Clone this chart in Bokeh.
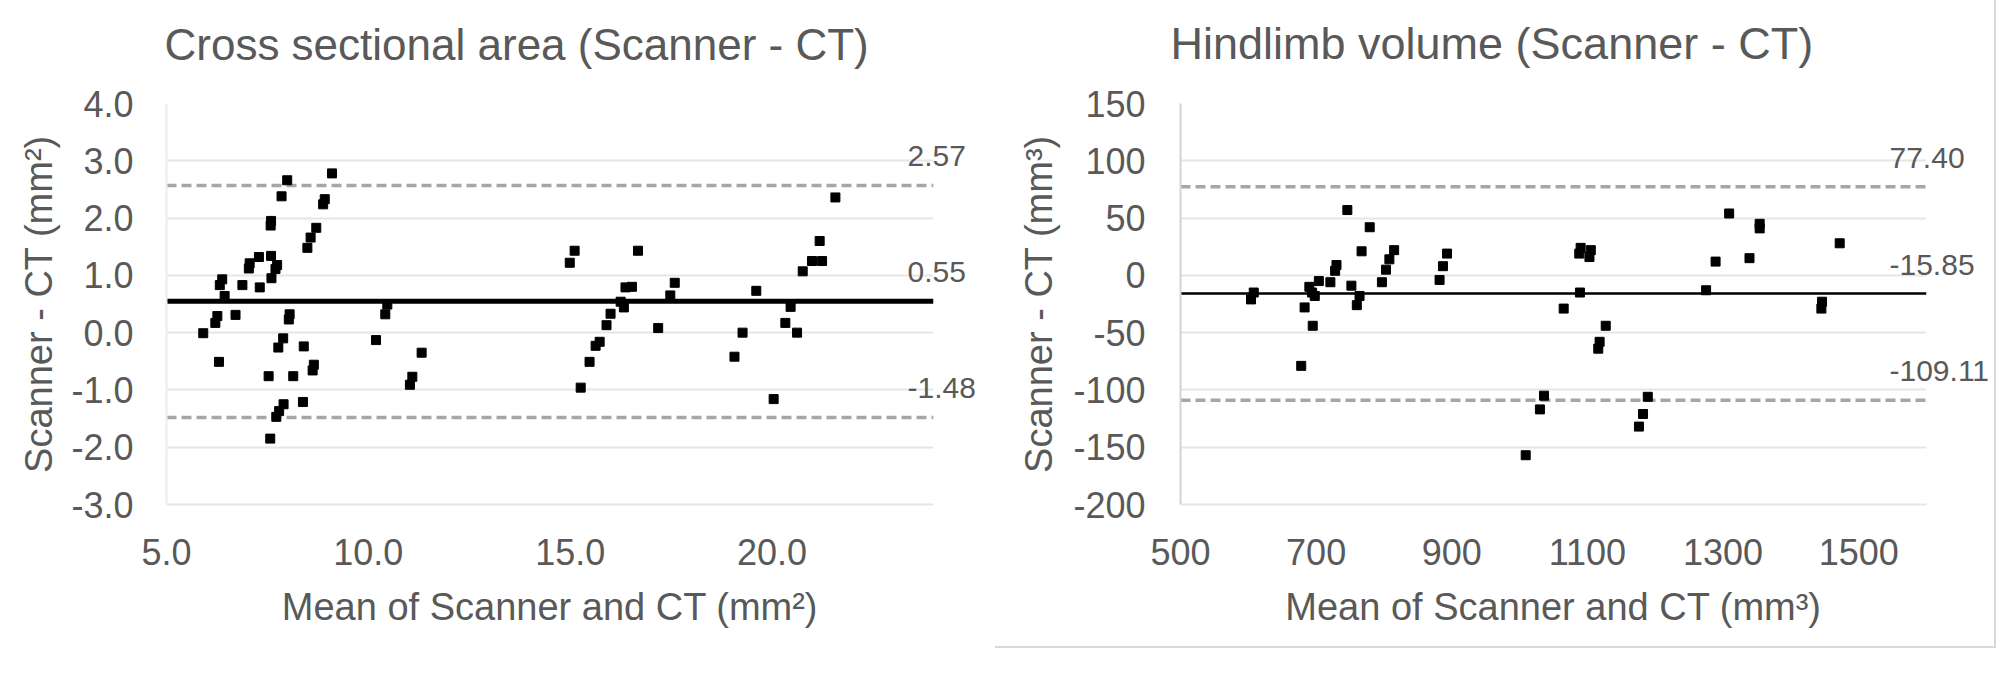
from bokeh.plotting import figure
from bokeh.layouts import row
from bokeh.models import (Range1d, FixedTicker, NumeralTickFormatter, LinearAxis, Title)
from bokeh.embed import file_html
from bokeh.resources import INLINE

# ---------------- data: cross sectional area ----------------
csa_mean = [9.10, 7.99, 7.85, 8.92, 8.88, 7.59, 7.58, 8.71, 8.57, 8.49,
            7.29, 7.06, 7.04, 7.59, 7.74, 7.70, 7.60, 6.38, 6.32, 6.88,
            7.31, 6.44, 6.26, 6.21, 6.71, 5.91, 8.05, 8.03, 6.30, 7.89,
            7.77, 8.40, 7.53, 8.14, 8.65, 8.62, 10.47, 10.42, 10.19, 11.32,
            11.09, 11.03, 7.90, 7.79, 7.72, 8.38, 7.57,
            15.11, 14.99, 16.68, 16.37, 16.53, 17.59, 17.48, 16.25, 16.33,
            16.00, 15.90, 15.73, 15.63, 15.48, 15.26, 17.18, 19.27, 19.07,
            19.61, 21.57, 21.18, 20.99, 21.24, 20.76, 20.46, 20.33, 20.62, 20.04]
csa_diff = [2.78, 2.66, 2.38, 2.33, 2.24, 1.95, 1.87, 1.83, 1.66, 1.48,
            1.32, 1.21, 1.12, 1.34, 1.18, 1.11, 0.95, 0.93, 0.83, 0.83,
            0.79, 0.64, 0.29, 0.17, 0.31, -0.01, 0.32, 0.23, -0.51, -0.10,
            -0.26, -0.24, -0.76, -0.76, -0.56, -0.66, 0.49, 0.32, -0.13, -0.35,
            -0.77, -0.91, -1.25, -1.37, -1.47, -1.21, -1.85,
            1.43, 1.22, 1.43, 0.79, 0.80, 0.87, 0.65, 0.54, 0.44,
            0.33, 0.13, -0.16, -0.23, -0.51, -0.96, 0.08, 0.00, -0.42,
            0.73, 2.36, 1.60, 1.25, 1.25, 1.07, 0.45, 0.17, 0.00, -1.16]
csa_bias = 0.55
csa_limits = [2.57, -1.48]
csa_xlim = [5, 24]
csa_ylim = [-3, 4]
csa_xticks = [5, 10, 15, 20]
csa_yticks = [-3, -2, -1, 0, 1, 2, 3, 4]

# ---------------- data: hindlimb volume ----------------
vol_mean = [608, 604, 746, 779, 767, 730, 728, 815, 808, 803,
            797, 752, 764, 760, 721, 704, 690, 694, 698, 683,
            695, 678, 893, 887, 882, 1036, 1030, 1009, 1065, 1089,
            1090, 1105, 1103, 1088, 1127, 1118, 1116, 1189, 1182, 1176,
            1309, 1354, 1354, 1289, 1339, 1275, 1472, 1446, 1445]
vol_diff = [-15, -21, 57, 42, 21, 9, 4, 22, 14, 5,
            -6, -9, -18, -26, -6, -5, -10, -15, -18, -28,
            -44, -79, 19, 8, -4, -105, -117, -157, -29, -15,
            24, 22, 16, 19, -44, -58, -64, -106, -121, -132,
            54, 45, 41, 12, 15, -13, 28, -23, -29]
vol_bias = -15.85
vol_limits = [77.40, -109.11]
vol_xlim = [500, 1600]
vol_ylim = [-200, 150]
vol_xticks = [500, 700, 900, 1100, 1300, 1500]
vol_yticks = [-200, -150, -100, -50, 0, 50, 100, 150]

FONT = "Liberation Sans"
TXT = "#595959"
GRID = "#e6e6e6"
FRAME_H = 401
LABEL_LIFT = 29  # px the value labels sit above their line


def make_chart(title, xs, ys, bias, limits, xlim, ylim, xticks, yticks,
               xfmt, yfmt, xlabel, ylabel, width, left, frame_w, title_size,
               title_offset, bias_width, yaxis_color, ytick_standoff, ylab_standoff,
               value_standoff, styles=None):
    kw = {}
    if styles:
        kw["styles"] = styles
    p = figure(width=width, height=648, output_backend="svg", toolbar_location=None,
               x_range=Range1d(*xlim), y_range=Range1d(*ylim),
               min_border_left=left, min_border_right=width - left - frame_w,
               min_border_top=103, min_border_bottom=648 - 103 - FRAME_H, **kw)
    p.outline_line_color = None
    p.title.text = ""
    # blank spacer between frame and title, then the title itself
    p.add_layout(Title(text=" ", text_font_size="10px", standoff=22), "above")
    p.add_layout(Title(text=title, text_font=FONT, text_font_size=title_size,
                       text_font_style="normal", text_color=TXT, align="left",
                       offset=title_offset, standoff=0), "above")

    p.xaxis.ticker = FixedTicker(ticks=xticks)
    p.yaxis.ticker = FixedTicker(ticks=yticks)
    p.xaxis.formatter = NumeralTickFormatter(format=xfmt)
    p.yaxis.formatter = NumeralTickFormatter(format=yfmt)
    for ax in (p.xaxis, p.yaxis):
        ax.major_tick_line_color = None
        ax.minor_tick_line_color = None
        ax.major_label_text_font = FONT
        ax.major_label_text_font_size = "36px"
        ax.major_label_text_color = TXT
        ax.axis_label_text_font = FONT
        ax.axis_label_text_font_size = "38px"
        ax.axis_label_text_font_style = "normal"
        ax.axis_label_text_color = TXT
    p.xaxis.axis_label = xlabel
    p.yaxis.axis_label = ylabel
    p.xaxis.major_label_standoff = 28
    p.yaxis.major_label_standoff = ytick_standoff
    p.xaxis.axis_label_standoff = 18
    p.yaxis.axis_label_standoff = ylab_standoff
    p.xaxis.axis_line_color = GRID
    p.xaxis.axis_line_width = 2
    p.yaxis.axis_line_color = yaxis_color
    p.yaxis.axis_line_width = 2

    p.xgrid.grid_line_color = None
    p.ygrid.grid_line_color = GRID
    p.ygrid.grid_line_width = 2

    # limits of agreement (dashed) and mean difference (solid)
    m = len(limits)
    p.segment(x0=[xlim[0]] * m, x1=[xlim[1]] * m, y0=limits, y1=limits,
              line_color="#a6a6a6", line_width=3.5, line_dash="10 5")
    p.segment(x0=[xlim[0]], x1=[xlim[1]], y0=[bias], y1=[bias],
              line_color="black", line_width=bias_width)

    p.scatter(xs, ys, marker="square", size=9, color="black")

    # value labels of the three lines: a right-hand axis on a range lifted by LABEL_LIFT px
    lift = LABEL_LIFT * (ylim[1] - ylim[0]) / FRAME_H
    p.extra_y_ranges = {"vals": Range1d(ylim[0] - lift, ylim[1] - lift)}
    vals = sorted(limits + [bias])
    vax = LinearAxis(y_range_name="vals", ticker=FixedTicker(ticks=vals),
                     major_label_overrides={v: f"{v:.2f}" for v in vals})
    vax.axis_line_color = None
    vax.major_tick_line_color = None
    vax.minor_tick_line_color = None
    vax.major_label_standoff = value_standoff
    vax.major_label_text_font = FONT
    vax.major_label_text_font_size = "30px"
    vax.major_label_text_color = TXT
    p.add_layout(vax, "right")
    return p


p1 = make_chart("Cross sectional area (Scanner - CT)", csa_mean, csa_diff, csa_bias,
                csa_limits, csa_xlim, csa_ylim, csa_xticks, csa_yticks, "0.0", "0.0",
                "Mean of Scanner and CT (mm²)", "Scanner - CT (mm²)",
                995, 166, 767, "44px", -2, 5, "#ededed", 27, 8, -32)
p2 = make_chart("Hindlimb volume (Scanner - CT)", vol_mean, vol_diff, vol_bias,
                vol_limits, vol_xlim, vol_ylim, vol_xticks, vol_yticks, "0", "0",
                "Mean of Scanner and CT (mm³)", "Scanner - CT (mm³)",
                1001, 185, 746, "45px", -10, 2.5, "#d4d4d4", 29, 10, -43,
                styles={"border-right": "2px solid #d9d9d9",
                        "border-bottom": "2px solid #d9d9d9",
                        "box-sizing": "border-box"})

layout = row(p1, p2)
html = file_html(layout, INLINE)
html = html.replace("<body>", '<body style="background:#f8f8f8">', 1)
open("out.html", "w").write(html)
